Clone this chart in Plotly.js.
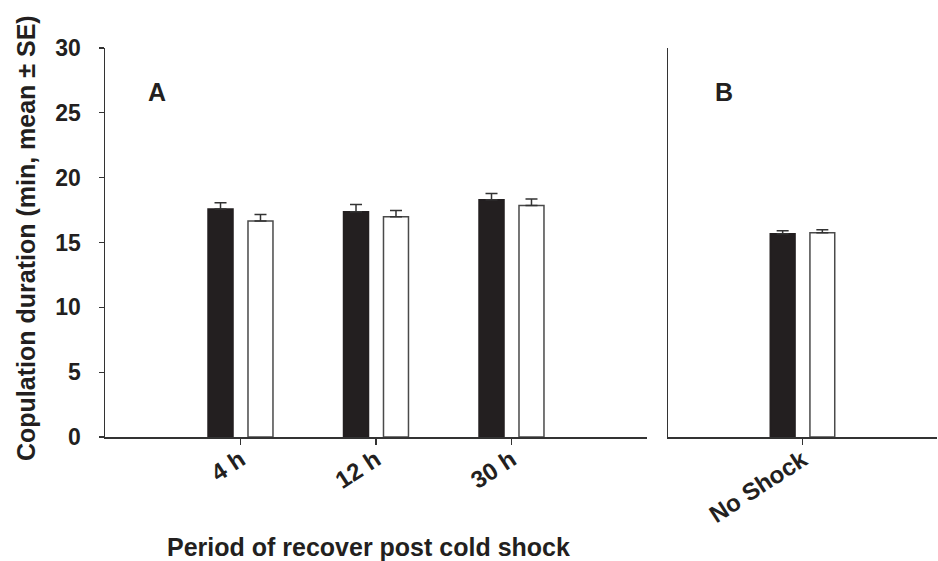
<!DOCTYPE html>
<html>
<head>
<meta charset="utf-8">
<script src="https://cdn.plot.ly/plotly-3.0.1.min.js"></script>
<style>html,body{margin:0;padding:0;background:#fff;}#chart{width:938px;height:561px;}</style>
</head>
<body>
<div id="chart"></div>
<script>
// Panel A: period of recovery post cold shock
const recoveryPeriods = ['4 h', '12 h', '30 h'];
const seriesDarkMean = [17.58, 17.38, 18.29];
const seriesDarkSE = [0.49, 0.55, 0.49];
const seriesLightMean = [16.65, 16.98, 17.86];
const seriesLightSE = [0.50, 0.49, 0.50];
// Panel B: control
const controlCategory = ['No Shock'];
const controlDarkMean = [15.68];
const controlDarkSE = [0.23];
const controlLightMean = [15.76];
const controlLightSE = [0.23];
const yTickValues = [0, 5, 10, 15, 20, 25, 30];

const FONT = 'Liberation Sans, Arial, sans-serif';
const DARK = '#231f20';
const EDGE = '#4a4a4a';

function errUp(se) {
  return {type: 'data', symmetric: false, array: se, arrayminus: se.map(() => 0),
          color: '#333', thickness: 1.5, width: 6};
}

const traces = [
  {type: 'bar', x: recoveryPeriods, y: seriesDarkMean, error_y: errUp(seriesDarkSE),
   marker: {color: DARK, line: {color: DARK, width: 1.5}}, xaxis: 'x', yaxis: 'y', showlegend: false},
  {type: 'bar', x: recoveryPeriods, y: seriesLightMean, error_y: errUp(seriesLightSE),
   marker: {color: '#ffffff', line: {color: EDGE, width: 1.5}}, xaxis: 'x', yaxis: 'y', showlegend: false},
  {type: 'bar', x: controlCategory, y: controlDarkMean, error_y: errUp(controlDarkSE),
   marker: {color: DARK, line: {color: DARK, width: 1.5}}, xaxis: 'x2', yaxis: 'y2', showlegend: false},
  {type: 'bar', x: controlCategory, y: controlLightMean, error_y: errUp(controlLightSE),
   marker: {color: '#ffffff', line: {color: EDGE, width: 1.5}}, xaxis: 'x2', yaxis: 'y2', showlegend: false}
];

const W = 938, H = 561;
const yDom = [1 - 437 / H, 1 - 48 / H];
const axLine = {showline: true, linecolor: '#333', linewidth: 1.5, zeroline: false, showgrid: false};

const layout = {
  width: W, height: H,
  margin: {l: 0, r: 0, t: 0, b: 0},
  paper_bgcolor: '#fff', plot_bgcolor: '#fff',
  barmode: 'group', bargap: 0.41, bargroupgap: 0.375,
  font: {family: FONT, color: '#231f20'},
  xaxis: Object.assign({}, axLine, {
    domain: [105 / W, 647 / W], range: [-1, 3], type: 'category',
    ticks: 'outside', ticklen: 6, tickwidth: 1.2, tickcolor: '#333',
    tickangle: -33, tickfont: {family: FONT, size: 24, weight: 'bold', color: '#231f20'},
    ticklabelstandoff: -8, anchor: 'y'
  }),
  yaxis: Object.assign({}, axLine, {
    domain: yDom, range: [0, 30], tickvals: yTickValues,
    ticks: 'outside', ticklen: 5, tickwidth: 1.2, tickcolor: '#333',
    tickfont: {family: FONT, size: 23, weight: 'bold', color: '#231f20'},
    ticklabelstandoff: 13, anchor: 'x'
  }),
  xaxis2: Object.assign({}, axLine, {
    domain: [668 / W, 937 / W], range: [-1, 1], type: 'category',
    ticks: 'outside', ticklen: 6, tickwidth: 1.2, tickcolor: '#333',
    tickangle: -33, tickfont: {family: FONT, size: 24, weight: 'bold', color: '#231f20'},
    ticklabelstandoff: -8, anchor: 'y2'
  }),
  yaxis2: Object.assign({}, axLine, {
    domain: yDom, range: [0, 30], showticklabels: false, ticks: '', anchor: 'x2'
  }),
  annotations: [
    {text: '<b>Copulation duration (min, mean ± SE)</b>', xref: 'paper', yref: 'paper',
     x: 26 / W, y: 1 - 238 / H, textangle: -90, showarrow: false,
     font: {family: FONT, size: 25, color: '#231f20'}, xanchor: 'center', yanchor: 'middle'},
    {text: '<b>Period of recover post cold shock</b>', xref: 'paper', yref: 'paper',
     x: 368 / W, y: 1 - 547 / H, showarrow: false,
     font: {family: FONT, size: 25, color: '#231f20'}, xanchor: 'center', yanchor: 'middle'},
    {text: '<b>A</b>', xref: 'paper', yref: 'paper', x: 157 / W, y: 1 - 92 / H, showarrow: false,
     font: {family: FONT, size: 25, color: '#231f20'}, xanchor: 'center', yanchor: 'middle'},
    {text: '<b>B</b>', xref: 'paper', yref: 'paper', x: 724 / W, y: 1 - 92 / H, showarrow: false,
     font: {family: FONT, size: 25, color: '#231f20'}, xanchor: 'center', yanchor: 'middle'}
  ]
};

Plotly.newPlot('chart', traces, layout, {displayModeBar: false, staticPlot: true});
</script>
</body>
</html>
